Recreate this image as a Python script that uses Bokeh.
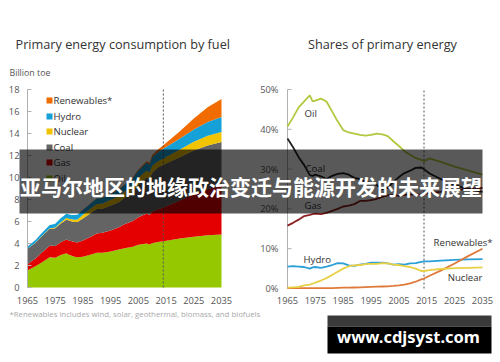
from bokeh.plotting import figure
from bokeh.models import Range1d, ColumnDataSource
from bokeh.core.properties import value
from bokeh.embed import file_html
from bokeh.resources import INLINE

# ---------------- data: left chart (billion toe) ----------------
years_l = [1965, 1968, 1970, 1973, 1974, 1975, 1977, 1979, 1980, 1981, 1982, 1983, 1985, 1988,
           1990, 1992, 1995, 1998, 2000, 2003, 2005, 2008, 2009, 2010, 2012, 2014, 2020, 2025, 2030, 2035]
oil_l = [1.55, 1.95, 2.25, 2.75, 2.72, 2.70, 2.95, 3.12, 2.98, 2.88, 2.80, 2.76, 2.80, 3.00,
         3.15, 3.17, 3.27, 3.45, 3.57, 3.70, 3.88, 3.99, 3.92, 4.03, 4.13, 4.21, 4.45, 4.62, 4.74, 4.82]
gas_l = [0.57, 0.72, 0.89, 1.04, 1.07, 1.08, 1.17, 1.25, 1.30, 1.32, 1.33, 1.34, 1.48, 1.64,
         1.77, 1.80, 1.92, 2.03, 2.18, 2.35, 2.51, 2.73, 2.66, 2.88, 2.99, 3.07, 3.45, 3.85, 4.20, 4.45]
coal_l = [1.40, 1.43, 1.48, 1.55, 1.56, 1.60, 1.70, 1.80, 1.80, 1.81, 1.83, 1.86, 2.00, 2.15,
          2.22, 2.18, 2.25, 2.28, 2.39, 2.70, 2.96, 3.29, 3.27, 3.53, 3.78, 3.88, 3.95, 3.98, 3.98, 3.95]
nuclear_l = [0.006, 0.012, 0.018, 0.045, 0.06, 0.085, 0.12, 0.15, 0.16, 0.19, 0.21, 0.23, 0.33, 0.43,
             0.45, 0.48, 0.53, 0.56, 0.58, 0.60, 0.63, 0.62, 0.61, 0.63, 0.56, 0.57, 0.70, 0.80, 0.87, 0.92]
hydro_l = [0.21, 0.24, 0.27, 0.30, 0.32, 0.33, 0.35, 0.38, 0.39, 0.39, 0.41, 0.42, 0.44, 0.47,
           0.49, 0.51, 0.56, 0.59, 0.60, 0.61, 0.66, 0.72, 0.73, 0.78, 0.83, 0.88, 1.00, 1.12, 1.25, 1.35]
renew_l = [0.0, 0.0, 0.0, 0.0, 0.0, 0.0, 0.0, 0.005, 0.005, 0.005, 0.005, 0.005, 0.01, 0.02,
           0.03, 0.03, 0.04, 0.045, 0.05, 0.065, 0.08, 0.12, 0.14, 0.17, 0.24, 0.32, 0.65, 1.00, 1.35, 1.65]

fuels = ["Oil", "Gas", "Coal", "Nuclear", "Hydro", "Renewables"]
fuel_colors = ["#96c800", "#e40000", "#646464", "#f2c400", "#16a0d8", "#f06c00"]
legend_labels = ["Renewables*", "Hydro", "Nuclear", "Coal", "Gas", "Oil"]

left_yticks = [0, 2, 4, 6, 8, 10, 12, 14, 16, 18]
x_ticks = [1965, 1975, 1985, 1995, 2005, 2015, 2025, 2035]
base_year = 2014

# ---------------- data: right chart (shares, %) ----------------
years_r = [1965, 1967, 1969, 1971, 1973, 1974, 1975, 1977, 1979, 1981, 1983, 1985, 1987, 1989,
           1991, 1993, 1995, 1997, 1999, 2001, 2003, 2005, 2007, 2009, 2011, 2013, 2014, 2016,
           2020, 2025, 2030, 2035]
oil_r = [40.7, 43.0, 45.5, 47.0, 48.5, 47.0, 47.2, 47.7, 47.0, 44.5, 42.0, 39.8, 39.2, 38.9,
         38.6, 38.4, 38.6, 38.9, 38.7, 38.3, 37.0, 35.8, 34.5, 33.6, 32.8, 32.3, 32.0, 32.7,
         31.8, 30.6, 29.6, 28.6]
coal_r = [37.7, 35.5, 33.0, 31.0, 28.5, 28.3, 28.6, 28.2, 27.5, 28.3, 28.8, 29.0, 28.6, 27.8,
          27.5, 26.8, 26.5, 26.0, 25.0, 25.3, 26.8, 28.0, 29.0, 29.6, 30.3, 30.4, 30.0, 28.9,
          27.5, 26.0, 25.0, 24.3]
gas_r = [15.8, 16.5, 17.3, 18.2, 18.5, 18.7, 18.8, 18.7, 19.0, 19.5, 20.0, 20.6, 20.8, 21.2,
         22.0, 22.0, 22.2, 22.5, 23.0, 23.4, 23.5, 23.3, 23.5, 23.6, 23.7, 23.6, 23.7, 24.0,
         24.3, 24.7, 25.0, 25.3]
hydro_r = [5.5, 5.6, 5.5, 5.4, 5.0, 5.3, 5.4, 5.2, 5.5, 5.9, 6.4, 6.3, 5.8, 5.7,
           6.0, 6.2, 6.5, 6.5, 6.5, 6.3, 6.0, 6.1, 6.0, 6.3, 6.4, 6.7, 6.8, 6.8,
           7.0, 7.2, 7.3, 7.4]
nuclear_r = [0.2, 0.3, 0.4, 0.8, 1.0, 1.2, 1.5, 2.0, 2.6, 3.4, 4.2, 5.0, 5.6, 5.8,
             5.9, 6.1, 6.2, 6.2, 6.4, 6.3, 6.0, 5.9, 5.6, 5.4, 5.0, 4.4, 4.4, 4.6,
             4.9, 5.1, 5.2, 5.3]
renew_r = [0.1, 0.1, 0.1, 0.1, 0.1, 0.1, 0.1, 0.1, 0.1, 0.1, 0.15, 0.2, 0.2, 0.25,
           0.3, 0.35, 0.4, 0.45, 0.5, 0.55, 0.65, 0.8, 1.0, 1.3, 1.7, 2.3, 2.5, 3.2,
           4.5, 6.3, 8.2, 10.0]
share_names = ["Oil", "Coal", "Gas", "Hydro", "Renewables*", "Nuclear"]
share_colors = ["#b2c83e", "#222222", "#8c1f1f", "#2a9fd8", "#e07a3a", "#e8d044"]

right_yticks = [0, 10, 20, 30, 40, 50]
right_ytick_labels = ["0%", "10%", "20%", "30%", "40%", "50%"]

left_title = "Primary energy consumption by fuel"
right_title = "Shares of primary energy"
unit_label = "Billion toe"
footnote = "*Renewables includes wind, solar, geothermal, biomass, and biofuels"
banner_text = "亚马尔地区的地缘政治变迁与能源开发的未来展望"
watermark = "www.cdjsyst.com"

# ---------------- figure: whole page as one frame ----------------
W, H = 500, 362
PX0, PX1, PY0, PY1 = 0, W, H, 0   # page pixels covered by the frame


def rng(v0, p0, v1, p1, lo, hi):
    k = (p1 - p0) / (v1 - v0)
    return Range1d(v0 + (lo - p0) / k, v0 + (hi - p0) / k)


p = figure(width=W, height=H, output_backend="svg", toolbar_location=None,
           x_axis_type=None, y_axis_type=None, min_border=0,
           x_range=Range1d(PX0, PX1), y_range=Range1d(PY0, PY1))
p.outline_line_color = None
p.background_fill_color = "white"

p.extra_x_ranges = {"lx": rng(1965, 27, 2035, 221, PX0, PX1),
                    "rx": rng(1965, 287, 2035, 482, PX0, PX1)}
p.extra_y_ranges = {"ly": rng(0, 287, 18, 89, PY0, PY1),
                    "ry": rng(0, 288, 50, 89, PY0, PY1)}

FONT = value("Open Sans")


def txt(xs, ys, s, size, color="#333333", align="left", baseline="middle",
        font=FONT, style="normal", **kw):
    p.text(x=xs, y=ys, text=s, text_font=font, text_font_size=f"{size}px",
           text_color=color, text_align=align, text_baseline=baseline,
           text_font_style=style, **kw)


L = dict(x_range_name="lx", y_range_name="ly")
R = dict(x_range_name="rx", y_range_name="ry")

# ---------------- left chart ----------------
src = ColumnDataSource(dict(year=years_l, Oil=oil_l, Gas=gas_l, Coal=coal_l,
                            Nuclear=nuclear_l, Hydro=hydro_l, Renewables=renew_l))
p.varea_stack(stackers=fuels, x="year", color=fuel_colors, source=src, **L)

p.segment(x0=[1965], y0=[0], x1=[1965], y1=[left_yticks[-1]], line_color="#b0b0b0", line_width=1, **L)
p.ray(x=[1965] * len(left_yticks), y=left_yticks, length=4, length_units="screen", angle=0,
      line_color="#b0b0b0", line_width=1, **L)
p.segment(x0=[base_year], y0=[0], x1=[base_year], y1=[left_yticks[-1]], line_color="#555555",
          line_width=1, line_dash="2 2", **L)
txt([1965] * len(left_yticks), left_yticks, [str(t) for t in left_yticks], 9.3,
    color="#555555", align="right", x_offset=-8, **L)
txt(x_ticks, [0] * len(x_ticks), [str(t) for t in x_ticks], 9.3, color="#555555",
    align="center", y_offset=13, **L)

txt([15], [43], [left_title], 12.7, color="#333333")
txt([9], [72], [unit_label], 8.8, color="#555555")
txt([9], [313], [footnote], 7.8, color="#a8a8a8")

leg_y = [100, 116, 131, 147, 162, 178]
leg_colors = list(reversed(fuel_colors))
p.scatter(x=[49] * 6, y=leg_y, marker="square", size=6, color=leg_colors, line_color=None)
txt([53] * 6, leg_y, legend_labels, 9.6, color="#333333")

# ---------------- right chart ----------------
p.segment(x0=[1965], y0=[0], x1=[1965], y1=[right_yticks[-1]], line_color="#b0b0b0", line_width=1, **R)
p.ray(x=[1965] * len(right_yticks), y=right_yticks, length=4, length_units="screen", angle=0,
      line_color="#b0b0b0", line_width=1, **R)
p.segment(x0=[base_year], y0=[0], x1=[base_year], y1=[right_yticks[-1]], line_color="#555555",
          line_width=1, line_dash="2 2", **R)
txt([1965] * len(right_yticks), right_yticks, right_ytick_labels, 9.3, color="#555555",
    align="right", x_offset=-9, **R)
txt(x_ticks, [0] * len(x_ticks), [str(t) for t in x_ticks], 9.3, color="#555555",
    align="center", y_offset=12, **R)

for vals, col in zip([oil_r, coal_r, gas_r, hydro_r, renew_r, nuclear_r], share_colors):
    p.line(years_r, vals, line_color=col, line_width=1.8, **R)

txt([382], [43], [right_title], 12.7, color="#333333", align="center")
txt([304, 305, 304, 303], [113, 168, 205, 259], ["Oil", "Coal", "Gas", "Hydro"], 9.6)
txt([492], [242], [share_names[4]], 9.6, align="right")
txt([482], [277], [share_names[5]], 9.6, align="right")

# ---------------- overlay banner and watermark ----------------
p.quad(left=[19], right=[482], top=[149], bottom=[213], fill_color="black",
       fill_alpha=0.65, line_color=None)
txt([250.5], [185], [banner_text], 21, color="white", align="center",
    font=value("Noto Sans CJK SC"), style="bold")

p.quad(left=[327], right=[491], top=[315], bottom=[326], fill_color="#3a3a3a", line_color=None)
p.quad(left=[327], right=[491], top=[326], bottom=[353], fill_color="black", line_color=None)
txt([408], [336], [watermark], 16.5, color="white", align="center",
    font=value("Noto Sans"), style="bold")

open("out.html", "w").write(file_html(p, INLINE))
